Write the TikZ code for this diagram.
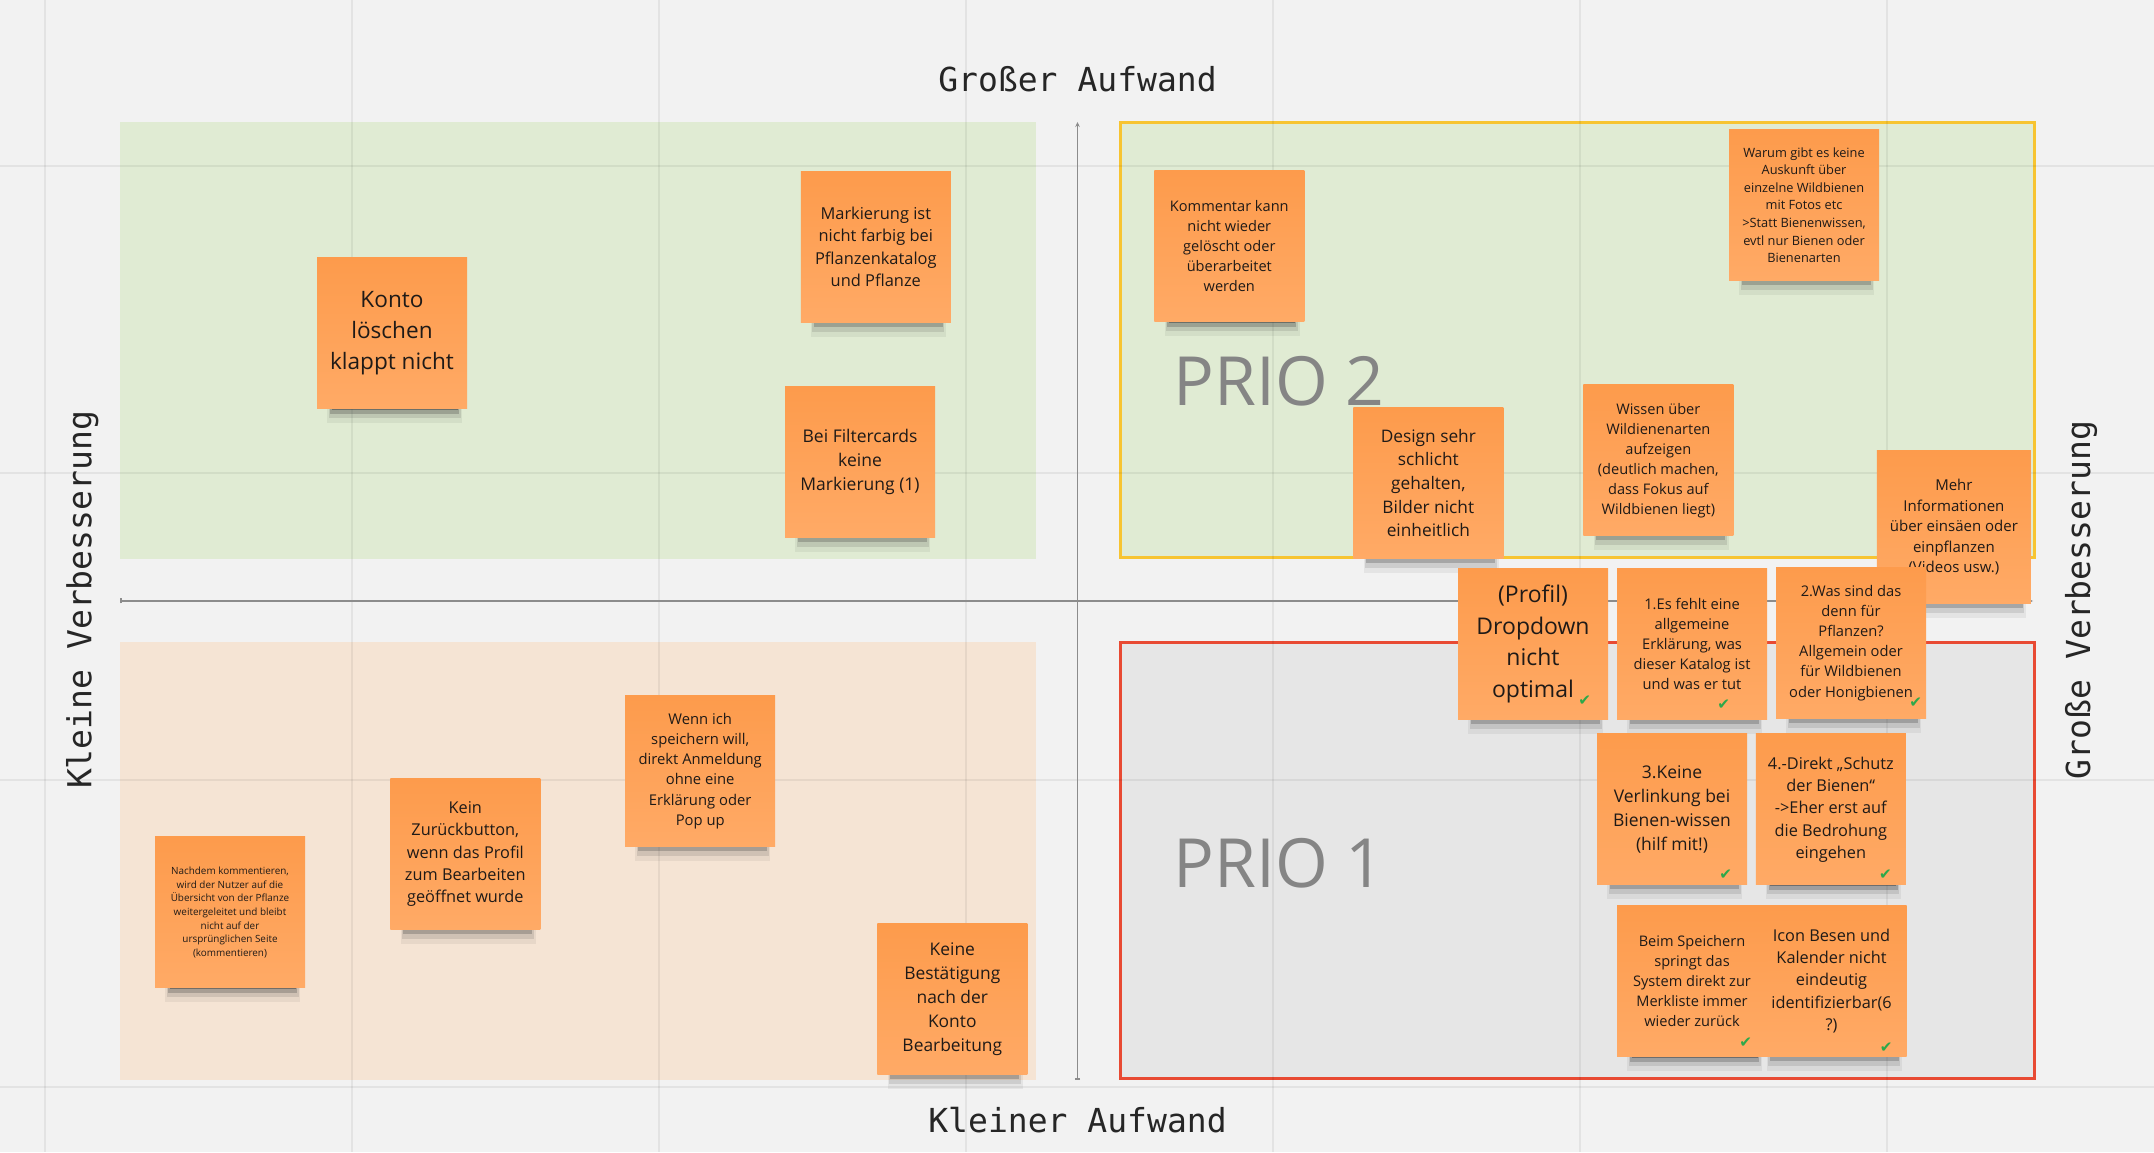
\documentclass[tikz,border=0pt]{standalone}
\usepackage{fontspec}
\setmainfont{Open Sans}
\setmonofont{DejaVu Sans Mono}
\newfontfamily\checkfont{DejaVu Sans}
\usetikzlibrary{shadows,arrows.meta}

\definecolor{board}{HTML}{F2F2F2}
\definecolor{greenzone}{HTML}{E0EBD3}
\definecolor{peachzone}{HTML}{F5E4D4}
\definecolor{grayzone}{HTML}{E6E6E6}
\definecolor{prioyellow}{HTML}{F7C431}
\definecolor{priored}{HTML}{E84A33}
\definecolor{priogray}{HTML}{858585}
\definecolor{axisgray}{HTML}{8C8C8C}
\definecolor{stickytop}{HTML}{FD9B4C}
\definecolor{stickybottom}{HTML}{FFAA66}
\definecolor{stickytext}{HTML}{1F1A17}
\definecolor{checkgreen}{HTML}{2DA84A}
\definecolor{shadowgray}{HTML}{333333}

\newcommand{\stickyfont}[2]{\fontsize{#1pt}{#2pt}\selectfont}

\tikzset{
sticky/.style={rectangle,minimum width=1.5cm,minimum height=1.51cm,inner sep=0pt,align=center,
  text=stickytext,top color=stickytop,bottom color=stickybottom,
  general shadow={fill=shadowgray,opacity=0.07,shadow scale=0.9,shadow xshift=0.03cm,shadow yshift=-0.245cm},
  general shadow={fill=shadowgray,opacity=0.13,shadow scale=0.88,shadow xshift=0.03cm,shadow yshift=-0.21cm},
  general shadow={fill=shadowgray,opacity=0.25,shadow scale=0.86,shadow xshift=0.03cm,shadow yshift=-0.176cm},
  general shadow={fill=shadowgray,opacity=0.45,shadow scale=0.84,shadow xshift=0.03cm,shadow yshift=-0.151cm}},
axislabel/.style={font=\ttfamily\fontsize{9.4pt}{11pt}\selectfont,text=black!85,anchor=base,inner sep=0pt},
prio/.style={font=\fontsize{19.3pt}{23pt}\selectfont,text=priogray,anchor=base west,inner sep=0pt},
done/.style={font=\checkfont\fontsize{4.3pt}{4.3pt}\selectfont,text=checkgreen,inner sep=0pt},
gridline/.style={black,opacity=0.06,line width=0.02cm},
axisline/.style={axisgray,line width=0.015cm,{Bar[width=0.05cm]}-{Stealth[length=0.05cm,width=0.045cm]}}
}

\begin{document}
\begin{tikzpicture}
\fill[board] (0,0) rectangle (21.54,11.52);
\useasboundingbox (0,0) rectangle (21.54,11.52);
% quadrants
\fill[greenzone] (1.20,5.925) rectangle (10.36,10.30);
\fill[peachzone] (1.20,0.72) rectangle (10.36,5.10);
\filldraw[fill=greenzone,draw=prioyellow,line width=0.03cm] (11.20,5.94) rectangle (20.34,10.29);
\filldraw[fill=grayzone,draw=priored,line width=0.03cm] (11.20,0.734) rectangle (20.34,5.09);
% board grid
\foreach \x in {0.446,3.516,6.586,9.656,12.726,15.796,18.866}
  \draw[gridline] (\x,0) -- (\x,11.52);
\foreach \y in {9.86,6.79,3.72,0.65}
  \draw[gridline] (0,\y) -- (21.54,\y);
% axes
\coordinate (xleft) at (1.20,5.51);
\coordinate (xright) at (20.33,5.51);
\coordinate (ybottom) at (10.775,0.72);
\coordinate (ytop) at (10.775,10.30);
\draw[axisline] (xleft) -- (xright);
\draw[axisline] (ybottom) -- (ytop);
\node[axislabel] (aufwandgross) at (10.775,10.603) {Großer Aufwand};
\node[axislabel] (aufwandklein) at (10.775,0.194) {Kleiner Aufwand};
\node[axislabel,rotate=90] (verbklein) at (0.913,5.52) {Kleine Verbesserung};
\node[axislabel,rotate=90] (verbgross) at (20.90,5.52) {Große Verbesserung};
\node[prio] (prio2) at (11.73,7.46) {PRIO 2};
\node[prio] (prio1) at (11.73,2.645) {PRIO 1};
% kleine verbesserung, grosser aufwand
\node[sticky,font=\stickyfont{6.43}{8.82}] (konto) at (3.92,8.185) {Konto\\löschen\\klappt nicht};
\node[sticky,font=\stickyfont{4.67}{6.37}] (markierung) at (8.758,9.052) {Markierung ist\\nicht farbig bei\\Pflanzenkatalog\\und Pflanze};
\node[sticky,font=\stickyfont{4.98}{6.83}] (filter) at (8.60,6.902) {Bei Filtercards\\keine\\Markierung (1)};
% kleine verbesserung, kleiner aufwand
\node[sticky,font=\stickyfont{2.82}{3.87}] (nachdem) at (2.30,2.395) {Nachdem kommentieren,\\wird der Nutzer auf die\\Übersicht von der Pflanze\\weitergeleitet und bleibt\\nicht auf der\\ursprünglichen Seite\\(kommentieren)};
\node[sticky,font=\stickyfont{4.64}{6.34}] (zurueck) at (4.653,2.978) {Kein\\Zurückbutton,\\wenn das Profil\\zum Bearbeiten\\geöffnet wurde};
\node[sticky,font=\stickyfont{4.21}{5.78}] (anmeldung) at (7.002,3.81) {Wenn ich\\speichern will,\\direkt Anmeldung\\ohne eine\\Erklärung oder\\Pop up};
\node[sticky,font=\stickyfont{4.95}{6.80}] (bestaetigung) at (9.523,1.53) {Keine\\Bestätigung\\nach der\\Konto\\Bearbeitung};
% prio 2
\node[sticky,font=\stickyfont{4.15}{5.69}] (kommentar) at (12.293,9.055) {Kommentar kann\\nicht wieder\\gelöscht oder\\überarbeitet\\werden};
\node[sticky,font=\stickyfont{3.64}{5.00}] (warum) at (18.04,9.468) {Warum gibt es keine\\Auskunft über\\einzelne Wildbienen\\mit Fotos etc\\>Statt Bienenwissen,\\evtl nur Bienen oder\\Bienenarten};
\node[sticky,font=\stickyfont{4.92}{6.74}] (design) at (14.283,6.69) {Design sehr\\schlicht\\gehalten,\\Bilder nicht\\einheitlich};
\node[sticky,font=\stickyfont{4.15}{5.69}] (wissen) at (16.583,6.917) {Wissen über\\Wildienenarten\\aufzeigen\\(deutlich machen,\\dass Fokus auf\\Wildbienen liegt)};
\node[sticky,font=\stickyfont{4.27}{5.83},minimum width=1.54cm,minimum height=1.53cm] (mehr) at (19.539,6.246) {Mehr\\Informationen\\über einsäen oder\\einpflanzen\\(Videos usw.)};
% prio 1
\node[sticky,font=\stickyfont{6.54}{8.96}] (profil) at (15.33,5.08) {(Profil)\\Dropdown\\nicht\\optimal};
\node[sticky,font=\stickyfont{4.18}{5.75}] (katalog) at (16.92,5.08) {1.Es fehlt eine\\allgemeine\\Erklärung, was\\dieser Katalog ist\\und was er tut};
\node[sticky,font=\stickyfont{4.18}{5.72}] (pflanzen) at (18.51,5.09) {2.Was sind das\\denn für\\Pflanzen?\\Allgemein oder\\für Wildbienen\\oder Honigbienen};
\node[sticky,font=\stickyfont{4.98}{6.83}] (verlinkung) at (16.72,3.427) {3.Keine\\Verlinkung bei\\Bienen-wissen\\(hilf mit!)};
\node[sticky,font=\stickyfont{4.64}{6.34}] (schutz) at (18.308,3.425) {4.-Direkt „Schutz\\der Bienen“\\->Eher erst auf\\die Bedrohung\\eingehen};
\node[sticky,font=\stickyfont{4.64}{6.37}] (icon) at (18.315,1.71) {Icon Besen und\\Kalender nicht\\eindeutig\\identifizierbar(6\\?)};
\node[sticky,font=\stickyfont{4.15}{5.69}] (beim) at (16.92,1.705) {Beim Speichern\\springt das\\System direkt zur\\Merkliste immer\\wieder zurück};
% erledigt
\node[done] (profilok) at ([xshift=-0.24cm,yshift=0.19cm]profil.south east) {✔};
\node[done] (katalogok) at ([xshift=-0.44cm,yshift=0.15cm]katalog.south east) {✔};
\node[done] (pflanzenok) at ([xshift=-0.11cm,yshift=0.16cm]pflanzen.south east) {✔};
\node[done] (verlinkungok) at ([xshift=-0.22cm,yshift=0.11cm]verlinkung.south east) {✔};
\node[done] (schutzok) at ([xshift=-0.21cm,yshift=0.11cm]schutz.south east) {✔};
\node[done] (beimok) at ([xshift=-0.22cm,yshift=0.15cm]beim.south east) {✔};
\node[done] (iconok) at ([xshift=-0.21cm,yshift=0.09cm]icon.south east) {✔};
\end{tikzpicture}
\end{document}
